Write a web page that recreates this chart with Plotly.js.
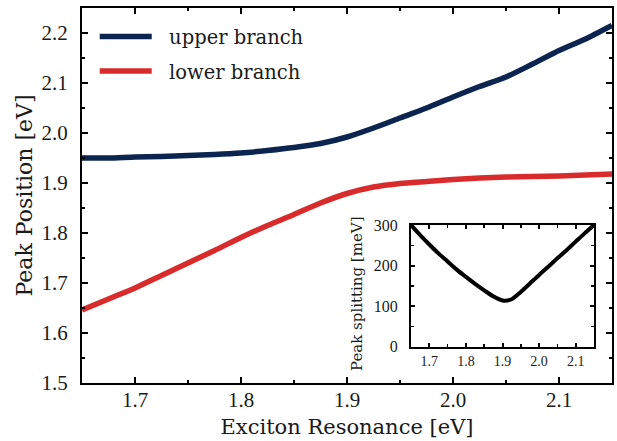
<!DOCTYPE html>
<html>
<head>
<meta charset="utf-8">
<script src="https://cdn.plot.ly/plotly-3.0.1.min.js"></script>
<style>html,body{margin:0;padding:0;background:#fff;}#chart{width:617px;height:441px;}</style>
</head>
<body>
<div id="chart"></div>
<script>
// Data
const excitonEnergy = [1.65, 1.675, 1.70, 1.725, 1.75, 1.775, 1.80, 1.825, 1.85, 1.875, 1.90, 1.925, 1.95, 1.975, 2.0, 2.025, 2.05, 2.075, 2.1, 2.125, 2.15];
const upperBranch = [1.950, 1.950, 1.952, 1.953, 1.955, 1.957, 1.960, 1.965, 1.971, 1.979, 1.992, 2.010, 2.030, 2.050, 2.072, 2.093, 2.112, 2.138, 2.165, 2.188, 2.215];
const lowerBranch = [1.646, 1.668, 1.690, 1.715, 1.740, 1.765, 1.791, 1.815, 1.837, 1.860, 1.879, 1.892, 1.899, 1.903, 1.907, 1.910, 1.912, 1.913, 1.914, 1.916, 1.918];
const peakSplitting = [300, 275, 252, 230, 210, 190, 172, 155, 139, 124, 114, 117, 135, 156, 177, 197, 218, 238, 259, 280, 300];
const seriesNames = ["upper branch", "lower branch"];
const mainXTicks = [1.7, 1.8, 1.9, 2.0, 2.1];
const mainYTicks = [1.5, 1.6, 1.7, 1.8, 1.9, 2.0, 2.1, 2.2];
const insetXTicks = [1.7, 1.8, 1.9, 2.0, 2.1];
const insetYTicks = [0, 100, 200, 300];

const TEXTFONT = "DejaVu Serif, serif";
const NUMFONT = "Liberation Serif, serif";
const ink = "#1a1a1a";
const navy = "#0c2550";
const red = "#d92b2b";
const pad = "\u00a0\u00a0";

const traces = [
  {x: excitonEnergy, y: upperBranch, name: pad + seriesNames[0], type: "scatter", mode: "lines",
   line: {color: navy, width: 5.5, shape: "spline", smoothing: 0.6}, xaxis: "x", yaxis: "y", legendgroup: "u"},
  {x: excitonEnergy, y: lowerBranch, name: pad + seriesNames[1], type: "scatter", mode: "lines",
   line: {color: red, width: 5.5, shape: "spline", smoothing: 0.6}, xaxis: "x", yaxis: "y", legendgroup: "l"},
  {x: excitonEnergy, y: peakSplitting, name: "splitting", type: "scatter", mode: "lines",
   line: {color: "#000", width: 4, shape: "spline", smoothing: 0.8}, xaxis: "x2", yaxis: "y2", showlegend: false}
];

const axisCommon = {
  showgrid: false, zeroline: false, showline: true, linecolor: "#000", linewidth: 2,
  mirror: "ticks", ticks: "inside", tickcolor: "#000", tickwidth: 2
};

const layout = {
  width: 617, height: 441,
  margin: {l: 82, r: 5, t: 8, b: 58},
  paper_bgcolor: "#fff", plot_bgcolor: "#fff",
  font: {family: TEXTFONT, color: ink},
  showlegend: true,
  legend: {x: 0.024, y: 0.975, xanchor: "left", yanchor: "top", bgcolor: "rgba(0,0,0,0)",
           font: {family: TEXTFONT, size: 19.5, color: ink}, itemwidth: 52, tracegroupgap: 6},
  xaxis: Object.assign({}, axisCommon, {
    domain: [0, 1], range: [1.65, 2.15], tickvals: mainXTicks, ticktext: mainXTicks.map(v => v.toFixed(1)),
    ticklen: 6, minor: {dtick: 0.05, tick0: 1.65, ticklen: 3, tickwidth: 2, tickcolor: "#000", ticks: "inside"},
    tickfont: {family: NUMFONT, size: 21, color: ink}, ticklabelstandoff: -3,
    title: {text: "Exciton Resonance [eV]", font: {family: TEXTFONT, size: 21, color: ink}, standoff: 8}
  }),
  yaxis: Object.assign({}, axisCommon, {
    domain: [0, 1], range: [1.5, 2.25], tickvals: mainYTicks, ticktext: mainYTicks.map(v => v.toFixed(1)),
    ticklen: 6, minor: {dtick: 0.05, tick0: 1.5, ticklen: 3, tickwidth: 2, tickcolor: "#000", ticks: "inside"},
    tickfont: {family: NUMFONT, size: 21, color: ink}, ticklabelstandoff: 8,
    title: {text: "Peak Position [eV]", font: {family: TEXTFONT, size: 22, color: ink}, standoff: 3}
  }),
  xaxis2: Object.assign({}, axisCommon, {
    domain: [0.6208, 0.966], range: [1.65, 2.15], anchor: "y2", tickvals: insetXTicks,
    ticktext: insetXTicks.map(v => v.toFixed(1)), ticklen: 4, linewidth: 2,
    minor: {dtick: 0.05, tick0: 1.65, ticklen: 3, tickwidth: 1.5, tickcolor: "#000", ticks: "inside"},
    tickfont: {family: NUMFONT, size: 14, color: ink}, ticklabelstandoff: 0
  }),
  yaxis2: Object.assign({}, axisCommon, {
    domain: [0.0968, 0.4213], range: [0, 300], anchor: "x2", tickvals: insetYTicks,
    ticktext: insetYTicks.map(String), ticklen: 4, linewidth: 2,
    minor: {dtick: 50, tick0: 0, ticklen: 3, tickwidth: 1.5, tickcolor: "#000", ticks: "inside"},
    tickfont: {family: NUMFONT, size: 16, color: ink}, ticklabelstandoff: 8
  }),
  annotations: [
    {text: "Peak splitting [meV]", textangle: -90, xref: "paper", yref: "paper",
     x: (357 - 82) / 530, y: (383 - 294) / 375, xanchor: "center", yanchor: "middle", showarrow: false,
     font: {family: TEXTFONT, size: 15, color: ink}}
  ]
};

Plotly.newPlot("chart", traces, layout, {displayModeBar: false, staticPlot: true});
</script>
</body>
</html>
